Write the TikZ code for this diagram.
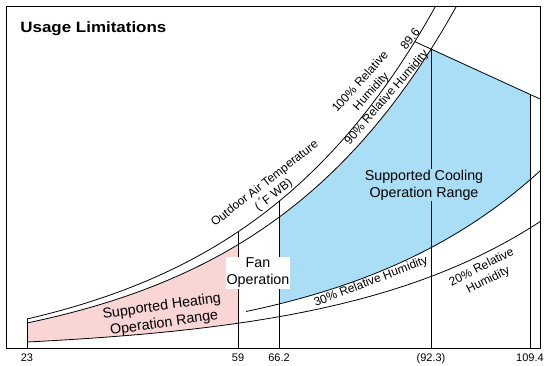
\documentclass[tikz,border=0pt]{standalone}
\usepackage{fontspec}
\setmainfont{Liberation Sans}
\definecolor{pinkfill}{RGB}{250,213,213}
\definecolor{bluefill}{RGB}{170,222,247}
\begin{document}
\begin{tikzpicture}[x=1pt,y=-1pt,line width=0.8pt,
  declare function={
    yo(\x)=319-46.5*(exp(0.005*(\x-27))-1);
    yi(\x)=323-41.8*(exp(0.005*(\x-27))-1);
    yc(\x)=339.4-14*(exp(0.005*(\x-27))-1);
    yd(\x)=342-10*(exp(0.005*(\x-27))-1);
  },
  big/.style={font=\fontsize{14.3}{17}\selectfont,align=center,inner sep=1pt},
  small/.style={font=\fontsize{12}{14.5}\selectfont,align=center,inner sep=0pt},
  tick/.style={font=\fontsize{11}{13}\selectfont,anchor=base,inner sep=0pt}]
\useasboundingbox (0,0) rectangle (544,366);
% fills
\fill[pinkfill] plot[domain=27:238,samples=40] (\x,{yi(\x)}) -- plot[domain=238:27,samples=40] (\x,{yd(\x)}) -- cycle;
\fill[bluefill] plot[domain=279:431,samples=50] (\x,{yi(\x)}) -- (530,94.4) -- plot[domain=530:279,samples=50] (\x,{yc(\x)}) -- cycle;
% curves
\begin{scope}
\clip (6.5,6.5) rectangle (540.5,349);
\draw plot[domain=27:441,samples=120] (\x,{yo(\x)});
\draw plot[domain=27:461,samples=120] (\x,{yi(\x)});
\draw plot[domain=27:541,samples=80] (\x,{yd(\x)});
\draw plot[domain=246:541,samples=80] (\x,{yc(\x)});
\end{scope}
% straight top line of cooling range
\coordinate (t0) at (414.8,{yo(414.8)});
\coordinate (t1) at (540.5,99.2);
\draw (t0) -- (t1);
% verticals
\coordinate (v23) at (27,{yo(27)});
\coordinate (v59) at (238,{yo(238)});
\coordinate (v66) at (279,{yo(279)});
\coordinate (v92) at (431,{yi(431)});
\coordinate (v109) at (530,94.4);
\foreach \c/\xx in {v23/27,v59/238,v66/279,v92/431,v109/530}{
  \draw (\c) -- (\xx,349);
}
% frame
\draw[line width=1pt] (6.5,6.5) rectangle (540.5,349);
% title
\node[anchor=base west,inner sep=0pt,font=\bfseries\fontsize{15}{18}\selectfont] (title) at (20,33) {\scalebox{1.13}[1]{Usage Limitations}};
% tick labels
\node[tick] (k23) at (27,362) {23};
\node[tick] (k59) at (238,362) {59};
\node[tick] (k66) at (279,362) {66.2};
\node[tick] (k92) at (431,362) {(92.3)};
\node[tick] (k109) at (530,362) {109.4};
% region labels
\node[big,fill=white] (fan) at (258,273) {Fan\\Operation};
\node[big,fill=bluefill] (cool) at (424,185) {Supported Cooling\\Operation Range};
\node[big,rotate=8] (heat) at (163,315) {Supported Heating\\Operation Range};
% curve labels
\node[small,rotate=38] (oat) at (269.5,189.5) {Outdoor Air Temperature\\(\,\textsuperscript{°}F WB)};
\node[small,rotate=48] (rh100) at (366,87) {100\% Relative\\Humidity};
\node[small,rotate=49] (rh90) at (387,97.5) {90\% Relative Humidity};
\node[small,rotate=52] (p896) at (410,39) {89.6};
\node[small,rotate=21] (rh30) at (371,282) {30\% Relative Humidity};
\node[small,rotate=27] (rh20) at (485,274) {20\% Relative\\Humidity};
\end{tikzpicture}
\end{document}
